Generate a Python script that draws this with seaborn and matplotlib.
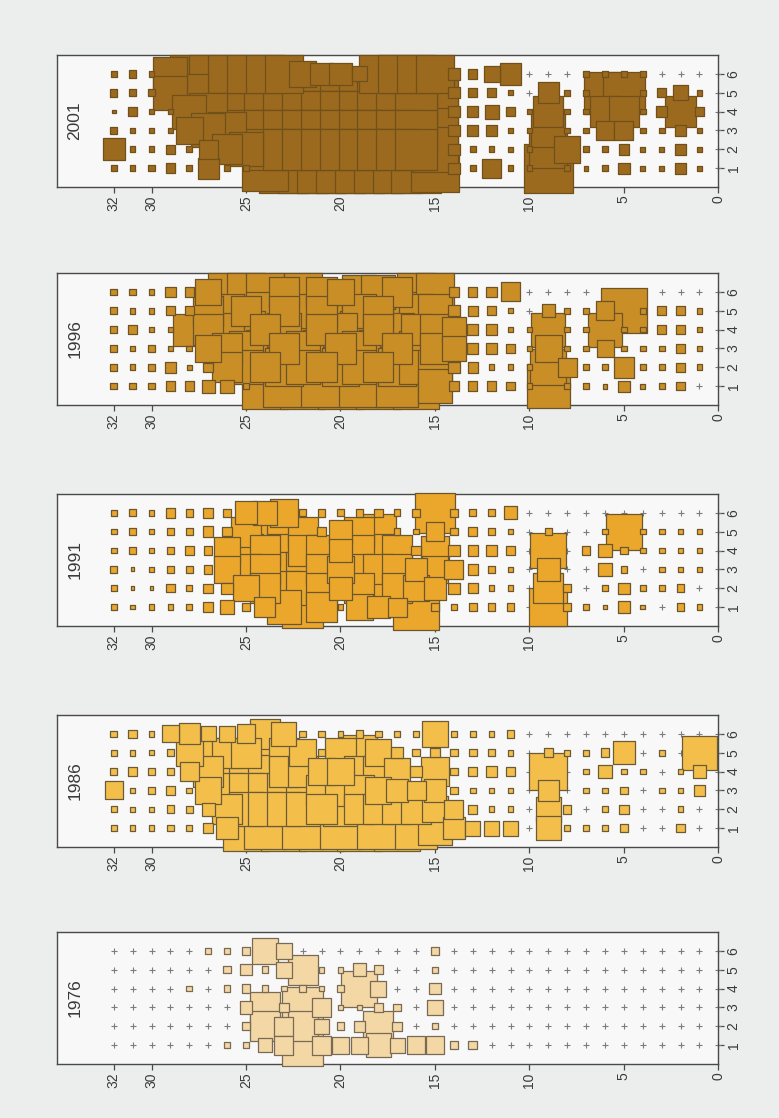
import numpy as np
import pandas as pd
import matplotlib
matplotlib.use("Agg")
import matplotlib.pyplot as plt
import seaborn as sns

# ---- data -------------------------------------------------------------
years = ["2001", "1996", "1991", "1986", "1976"]
depths = [32, 31, 30, 29, 28, 27, 26, 25, 24, 23, 22, 21, 20, 19, 18, 17,
          16, 15, 14, 13, 12, 11, 10, 9, 8, 7, 6, 5, 4, 3, 2, 1, 0]
sites = [6, 5, 4, 3, 2, 1]
depth_ticks = [32, 30, 25, 20, 15, 10, 5, 0]

# square side (in grid units) for every site (rows, 6 -> 1) and depth (32 -> 0)
size_2001 = [
    [.3, .4, .3, 1.8, 2.0, 2.0, 2.0, 2.0, 2.0, 2.0, 1.4, 1.2, 1.2, .8, 2.0, 2.0, 2.0, 2.0, .6, .5, .85, 1.15, 0, 0, 0, .3, .3, .3, .3, 0, 0, 0, 0],
    [.4, .35, .35, 1.8, 2.0, 2.2, 2.2, 2.2, 2.2, 2.2, 2.2, 2.2, 2.2, 2.2, 2.2, 2.2, 2.2, 2.4, .6, .5, .45, .25, 0, 1.1, .3, .3, 2.2, 2.2, .3, .5, .8, .3, 0],
    [.2, .5, .3, .3, 1.8, 2.0, 2.2, 2.2, 2.2, 2.2, 2.2, 2.2, 2.2, 2.2, 2.2, 2.2, 2.2, 2.4, .6, .6, .75, .5, .3, 1.6, .3, .3, 1.6, 1.6, .3, .6, 1.6, .5, 0],
    [.4, .3, .3, .3, 1.4, 1.8, 2.0, 2.2, 2.2, 2.2, 2.2, 2.2, 2.2, 2.2, 2.2, 2.2, 2.2, 2.4, .6, .6, .6, .25, .3, 1.8, .3, .3, 1.0, 1.0, .3, .3, .6, .3, 0],
    [1.15, .3, .3, .5, .3, 1.0, 1.6, 1.8, 2.2, 2.2, 2.2, 2.2, 2.2, 2.2, 2.2, 2.2, 2.2, 2.4, .6, .3, .3, .25, .3, 2.0, 1.4, .3, .3, .55, .25, .25, .55, .25, 0],
    [.3, .3, .35, .5, .3, 1.1, .3, .3, 2.4, 2.6, 2.6, 2.6, 2.6, 2.6, 2.6, 2.6, 2.6, 2.5, .6, .3, 1.0, .3, .3, 2.6, .3, .25, .3, .6, .25, .25, .6, .25, 0],
]
size_1996 = [
    [.35, .35, .3, .55, .5, 1.4, 2.0, 2.0, 2.0, 1.6, 2.0, 1.6, 1.4, 1.8, 1.8, 1.6, 2.0, 2.0, .5, .5, .55, 1.0, 0, 0, 0, 0, 0, 0, 0, 0, 0, 0, 0],
    [.35, .3, .3, .45, .45, 1.6, 1.8, 1.6, 2.0, 1.6, 1.8, 1.6, 2.0, 1.8, 1.6, 2.0, 1.8, 1.8, .6, .55, .5, .25, 0, .7, .3, .3, 1.0, 2.4, .3, .45, .45, .3, 0],
    [.35, .45, .3, .3, 1.7, 1.6, 1.8, 2.0, 1.6, 1.8, 2.0, 1.6, 1.8, 2.0, 1.6, 1.8, 1.6, 1.6, 1.3, .6, .6, .3, .3, 1.8, .3, .3, 1.8, .3, .3, .45, .45, .3, 0],
    [.4, .3, .35, .3, .3, 1.4, 1.6, 1.8, 2.0, 1.6, 1.8, 2.0, 1.6, 1.8, 2.0, 1.6, 1.8, 1.6, 1.3, .6, .55, .45, .3, 1.4, .3, .3, .9, .3, .3, .3, .45, .3, 0],
    [.4, .3, .35, .55, .25, .5, 1.6, 1.8, 1.6, 2.0, 1.8, 1.6, 2.0, 1.8, 1.6, 2.0, 1.8, 1.8, .6, .55, .3, .3, .3, 1.9, 1.0, .3, .3, 1.1, .3, .3, .5, .3, 0],
    [.35, .35, .35, .5, .5, .7, .7, .3, 2.4, 2.2, 2.4, 2.2, 2.4, 2.2, 2.4, 2.2, 2.4, 1.8, .5, .5, .5, .45, .3, 2.3, .3, .3, .25, .6, .25, .3, .45, 0, 0],
]
size_1991 = [
    [.3, .35, .3, .5, .4, .55, .45, 1.2, 1.3, 1.5, .35, .4, .35, .4, .45, .35, .4, 2.1, .4, .35, .35, .7, 0, 0, 0, 0, 0, 0, 0, 0, 0, 0, 0],
    [.3, .35, .3, .4, .4, .55, .5, 1.6, 1.8, 1.8, 1.6, .5, 1.2, 1.6, 1.9, .35, .3, 1.0, .4, .5, .4, .3, 0, .4, 0, 0, .3, 1.9, .3, .3, .3, .3, 0],
    [.3, .4, .3, .35, .5, .45, 1.4, 1.8, 1.6, 1.8, 1.6, 1.6, 1.2, 1.6, 1.8, 1.6, .5, 1.5, .6, .55, .55, .5, 0, 1.9, 0, .45, .7, .4, .3, .3, .3, .3, 0],
    [.35, .2, .3, .4, .35, .45, 1.4, 1.6, 1.6, 1.8, 1.8, 1.6, 1.4, 1.6, 1.6, 1.6, 1.2, 1.4, 1.0, .55, .4, .3, 0, 1.2, 0, 0, .7, .35, 0, .3, .3, .3, 0],
    [.3, .2, .2, .45, .3, .5, .6, 1.4, 1.6, 1.8, 1.8, 1.6, 1.2, 1.6, 1.8, 1.6, 1.4, 1.2, .6, .55, .3, .3, 0, 1.6, .45, 0, .3, .6, .3, .3, .4, 0, 0],
    [.3, .25, .3, .3, .3, .55, .7, .4, 1.1, 1.8, 2.2, 1.6, .3, 1.4, 1.2, 1.0, 2.4, .4, .3, .4, .4, .4, 0, 2.0, .45, .3, .25, .6, .25, 0, .4, .3, 0],
]
size_1986 = [
    [.35, .45, .3, .9, 1.1, .8, .85, 1.0, 1.6, 1.3, .35, .35, .3, .4, .35, .3, .3, 1.4, .3, .3, .3, .4, 0, 0, 0, 0, 0, 0, 0, 0, 0, 0, 0],
    [.3, .3, .25, .35, 1.4, 1.6, 1.6, 1.6, 1.8, 1.6, 1.4, .4, 1.6, 1.9, 1.4, .6, .4, .5, .4, .4, .4, .3, 0, .5, .3, .3, .45, 1.2, 0, .3, 0, 1.8, 0],
    [.35, .45, .35, .4, 1.0, 1.6, 1.8, 1.8, 1.8, 1.6, 1.6, 1.4, 1.4, 1.6, 1.6, 1.4, .6, 1.5, .4, .5, .55, .45, 0, 2.0, 0, .3, .7, .3, .3, 0, .3, .7, 0],
    [.95, .3, .4, .45, .3, 1.4, 1.8, 1.8, 1.8, 1.8, 1.8, 1.6, 1.6, 1.6, 1.4, 1.2, 1.0, 1.2, .4, .3, .3, .3, 0, 1.1, 0, .3, .3, .4, 0, .3, .3, .6, 0],
    [.3, .25, .25, .4, .35, .7, 1.6, 1.8, 1.8, 1.8, 1.8, 1.6, 1.8, 1.6, 1.6, 1.6, 1.6, 1.4, 1.0, .5, .3, .3, 0, 1.3, .45, 0, .3, .5, 0, 0, .3, 0, 0],
    [.3, .3, .3, .35, .3, .55, 1.2, 2.4, 2.2, 2.4, 2.2, 2.4, 2.2, 2.4, 2.2, 2.4, 2.2, 1.8, 1.2, .8, .8, .8, 0, 1.3, .3, .3, .3, .45, 0, 0, .45, 0, 0],
]
size_1976 = [
    [0, 0, 0, 0, 0, .3, .35, .45, 1.4, .85, 0, 0, 0, 0, 0, 0, 0, .45, 0, 0, 0, 0, 0, 0, 0, 0, 0, 0, 0, 0, 0, 0, 0],
    [0, 0, 0, 0, 0, 0, .4, .6, .35, .85, 1.6, .3, .3, .7, .45, 0, 0, .3, 0, 0, 0, 0, 0, 0, 0, 0, 0, 0, 0, 0, 0, 0, 0],
    [0, 0, 0, 0, .3, 0, .35, .45, .35, .3, .4, .3, .4, 1.9, .85, 0, 0, .6, 0, 0, 0, 0, 0, 0, 0, 0, 0, 0, 0, 0, 0, 0, 0],
    [0, 0, 0, 0, 0, 0, 0, .65, 1.6, .5, 2.2, 1.0, .3, .3, .5, .4, 0, .8, 0, 0, 0, 0, 0, 0, 0, 0, 0, 0, 0, 0, 0, 0, 0],
    [0, 0, 0, 0, 0, 0, 0, .4, 1.6, 1.0, 1.6, .8, .4, .6, 1.6, .5, 0, .3, 0, 0, 0, 0, 0, 0, 0, 0, 0, 0, 0, 0, 0, 0, 0],
    [0, 0, 0, 0, 0, 0, .35, .35, .75, 1.0, 2.2, 1.0, .9, .9, 1.3, .8, .95, .95, .45, .45, 0, 0, 0, 0, 0, 0, 0, 0, 0, 0, 0, 0, 0],
]
sizes_by_year = {"2001": size_2001, "1996": size_1996, "1991": size_1991,
                 "1986": size_1986, "1976": size_1976}

# ---- style ------------------------------------------------------------
fills = {"2001": "#9b6a1e", "1996": "#c98e26", "1991": "#eba72b",
         "1986": "#f3bf4a", "1976": "#f3d7a5"}
edges = {"2001": "#72501a", "1996": "#6e5326", "1991": "#6a5630",
         "1986": "#6b5b3a", "1976": "#7a6a55"}
PLUS = "#7c7c7c"
FIG_BG = "#eceeed"
PANEL_BG = "#f7f8f7"
INK = "#3a3a3a"

sns.set_theme(style="white")
plt.rcParams["font.family"] = ["Liberation Sans", "DejaVu Sans"]

fig = plt.figure(figsize=(7.79, 11.18), dpi=100, facecolor=FIG_BG)

left, width, height = 0.0732, 0.849, 0.1181
bottoms = [0.8327, 0.6377, 0.4401, 0.2424, 0.0483]

for year, bottom in zip(years, bottoms):
    ax = fig.add_axes([left, bottom, width, height])
    ax.set_facecolor(PANEL_BG)
    ax.set_xlim(35, 0)
    ax.set_ylim(0, 7)

    grid = sizes_by_year[year]
    records = [(d, s, grid[i][j]) for i, s in enumerate(sites)
               for j, d in enumerate(depths)]
    df = pd.DataFrame(records, columns=["depth", "site", "side"])

    # marker side in points per grid unit, from the axis scale
    p0 = ax.transData.transform((1, 0))
    p1 = ax.transData.transform((0, 0))
    pt_per_unit = abs(p1[0] - p0[0]) * 72.0 / fig.dpi

    empty = df[df["side"] == 0].reset_index(drop=True)
    filled = (df[df["side"] > 0]
              .sort_values("side", ascending=False, kind="stable")
              .reset_index(drop=True))

    sns.scatterplot(data=empty, x="depth", y="site", marker="+", s=16,
                    color=PLUS, linewidth=0.8, ax=ax, legend=False,
                    clip_on=False, zorder=2)
    sns.scatterplot(data=filled, x="depth", y="site", marker="s",
                    s=(filled["side"].to_numpy() * pt_per_unit) ** 2,
                    color=fills[year], edgecolor=edges[year], linewidth=0.9,
                    ax=ax, legend=False, clip_on=False, zorder=3)

    ax.set_xlim(35, 0)
    ax.set_ylim(0, 7)
    ax.set_xlabel("")
    ax.set_ylabel("")

    for sp in ax.spines.values():
        sp.set_visible(True)
        sp.set_color("#4a4a4a")
        sp.set_linewidth(1.0)

    ax.set_xticks(depth_ticks)
    ax.set_xticklabels([str(t) for t in depth_ticks])
    ax.tick_params(axis="x", bottom=True, direction="out", length=4,
                   width=0.9, color="#4a4a4a", pad=2, labelsize=10,
                   labelcolor=INK, labelrotation=90)

    ax.yaxis.tick_right()
    ax.set_yticks(sites[::-1])
    ax.set_yticklabels([str(s) for s in sites[::-1]])
    ax.tick_params(axis="y", right=True, left=False, labelright=True,
                   labelleft=False, direction="out", length=4, width=0.9,
                   color="#4a4a4a", pad=2, labelsize=10, labelcolor=INK,
                   labelrotation=90)
    for lbl in ax.get_yticklabels():
        lbl.set_verticalalignment("center")

    ax.text(0.027, 0.5, year, transform=ax.transAxes, rotation=90,
            ha="center", va="center", fontsize=12.5, color=INK)

fig.savefig("out.png", dpi=100, facecolor=FIG_BG)
